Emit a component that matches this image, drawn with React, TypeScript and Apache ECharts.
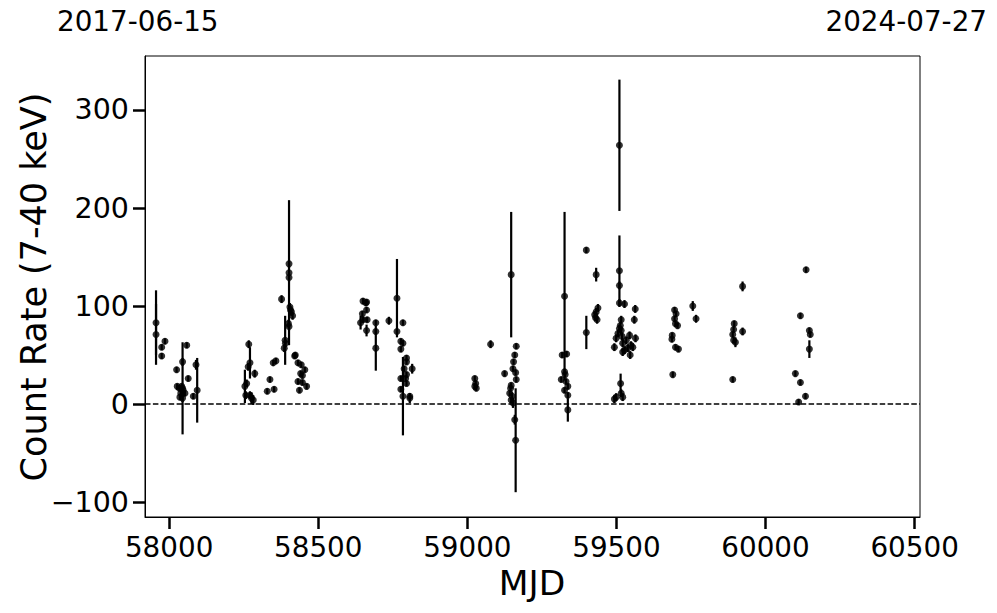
import React, { useEffect, useRef } from "react";
import * as echarts from "echarts";

// MJD of each measurement
const mjd: number[] = [
  57956, 57956, 57975, 57986, 57975,
  58025, 58027, 58034, 58042, 58047, 58039, 58053, 58036, 58045, 58045, 58045, 58059, 58064, 58081, 58090, 58094,
  58254, 58257, 58265, 58267, 58271, 58271, 58276, 58282, 58287, 58260,
  58329, 58338, 58352, 58349, 58358,
  58377, 58386, 58389, 58390, 58402, 58402, 58402, 58405, 58410, 58414, 58400, 58402, 58407,
  58421, 58423, 58432, 58443, 58455, 58441, 58447, 58432, 58447, 58437, 58461,
  58650, 58662, 58660, 58662, 58648, 58650, 58642, 58664, 58662, 58693, 58693, 58693, 58737,
  58764, 58764, 58777, 58784, 58777, 58784, 58796, 58796, 58788, 58815, 58796, 58777, 58793, 58796, 58777, 58784, 58807, 58807,
  59025, 59028, 59025, 59030, 59078,
  59147, 59164, 59159, 59155, 59125, 59153, 59162, 59164, 59147, 59142, 59147, 59153, 59159, 59162, 59145, 59150,
  59326, 59318, 59333, 59326, 59328, 59315, 59331, 59337, 59326, 59337, 59337,
  59399, 59399, 59432, 59432, 59438, 59427, 59435, 59430,
  59510, 59510, 59510, 59510, 59527, 59563, 59560, 59516, 59510, 59516, 59505, 59499, 59493, 59521, 59544, 59564,
  59549, 59555, 59538, 59546, 59527, 59521, 59514, 59516, 59521, 59499, 59493, 59513, 59519, 59533,
  59695, 59700, 59695, 59698, 59705, 59687, 59686, 59698, 59708, 59689, 59756, 59767,
  59895, 59893, 59890, 59893, 59899, 59890, 59923, 59923,
  60100, 60117, 60134, 60111, 60117, 60136, 60147, 60150, 60147,
];

// Count rate (7-40 keV)
const rate: number[] = [
  83, 71, 58, 64, 49,
  35, 18, 16, 18, 14, 11, 11, 7, 16, 43, 6, 60, 26, 8, 40, 14,
  18, 9, 38, 61, 42, 9, 6, 4, 31, 21,
  13, 25, 15, 42, 44,
  107, 57, 65, 62, 143, 134, 129, 99, 94, 90, 82, 79, 96,
  49, 50, 42, 40, 35, 31, 29, 23, 22, 14, 18,
  105, 104, 103, 96, 92, 86, 83, 86, 75, 83, 74, 57, 85,
  108, 74, 64, 62, 56, 83, 47, 43, 36, 36, 30, 26, 26, 21, 15, 8, 8, 6,
  26, 21, 18, 16, 61,
  132, 59, 50, 43, 31, 36, 32, 25, 19, 11, 4, 1, -16, -37, 16, 8,
  110, 50, 51, 33, 30, 25, 23, 18, 14, 9, -6,
  157, 73, 132, 94, 98, 91, 86, 88,
  264, 136, 121, 103, 102, 97, 86, 86, 77, 75, 72, 67, 58, 62, 70, 67,
  60, 58, 57, 50, 55, 53, 21, 11, 7, 7, 5, 80, 69, 65,
  96, 92, 87, 82, 80, 70, 66, 58, 56, 30, 100, 87,
  82, 76, 71, 65, 63, 25, 120, 74,
  31, 22, 8, 2, 90, 137, 75, 71, 56,
];

// 1-sigma error of the count rate
const rateErr: number[] = [
  33, 31, 3, 3, 3,
  3, 3, 3, 3, 3, 3, 3, 3, 47, 4, 4, 3, 3, 3, 5, 33,
  17, 4, 4, 4, 16, 4, 6, 5, 4, 4,
  3, 3, 3, 3, 3,
  4, 4, 25, 4, 4, 74, 4, 4, 4, 4, 4, 4, 4,
  3, 3, 3, 3, 3, 3, 3, 3, 3, 3, 3,
  3, 3, 3, 3, 3, 3, 7, 3, 6, 3, 3, 23, 4,
  40, 3, 3, 3, 3, 3, 3, 3, 3, 5, 3, 3, 3, 3, 3, 40, 3, 5,
  3, 3, 3, 3, 4,
  64, 3, 3, 3, 3, 3, 3, 3, 3, 3, 3, 5, 5, 53, 4, 4,
  86, 3, 3, 3, 3, 3, 3, 3, 3, 3, 12,
  3, 17, 7, 4, 4, 4, 4, 3,
  67, 36, 4, 4, 4, 4, 4, 4, 4, 4, 4, 4, 4, 4, 4, 4,
  4, 4, 4, 4, 4, 4, 10, 4, 4, 4, 4, 4, 4, 4,
  3, 3, 3, 3, 3, 3, 3, 3, 3, 3, 5, 4,
  3, 3, 3, 3, 5, 3, 5, 4,
  3, 3, 3, 3, 3, 3, 3, 3, 9,
];

const xTicks: number[] = [58000, 58500, 59000, 59500, 60000, 60500];
const yTicks: number[] = [-100, 0, 100, 200, 300];
const startDate = "2017-06-15";
const endDate = "2024-07-27";
const xName = "MJD";
const yName = "Count Rate (7-40 keV)";

const FONT = "DejaVu Sans";

export default function App() {
  const ref = useRef<HTMLDivElement>(null);
  useEffect(() => {
    if (!ref.current) return;
    const chart = echarts.init(ref.current, undefined, { renderer: "svg" });
    const points = mjd.map((m, i) => [m, rate[i], rateErr[i]]);
    chart.setOption({
      animation: false,
      backgroundColor: "#fff",
      grid: {
        left: 145,
        right: 77,
        top: 56,
        bottom: 96,
        show: true,
        borderColor: "#000",
        borderWidth: 1,
        backgroundColor: "transparent",
      },
      xAxis: {
        type: "value",
        min: 57919,
        max: 60518,
        splitLine: { show: false },
        axisLine: { show: true, onZero: false, lineStyle: { color: "#000", width: 1 } },
        axisTick: {
          show: true,
          customValues: xTicks,
          length: 12,
          inside: false,
          lineStyle: { color: "#000", width: 2.5 },
        },
        axisLabel: {
          customValues: xTicks,
          formatter: (v: number) => String(v),
          color: "#000",
          fontFamily: FONT,
          fontSize: 27.8,
          margin: 16,
        },
      },
      yAxis: {
        type: "value",
        min: -115.3,
        max: 355.1,
        splitLine: { show: false },
        axisLine: { show: true, onZero: false, lineStyle: { color: "#000", width: 1 } },
        axisTick: {
          show: true,
          customValues: yTicks,
          length: 12,
          inside: false,
          lineStyle: { color: "#000", width: 2.5 },
        },
        axisLabel: {
          customValues: yTicks,
          formatter: (v: number) => String(v).replace("-", "\u2212"),
          color: "#000",
          fontFamily: FONT,
          fontSize: 28.5,
          margin: 16,
        },
      },
      graphic: [
        {
          type: "text",
          left: 57,
          top: 7,
          style: { text: startDate, fontFamily: FONT, fontSize: 27.8, fill: "#000" },
        },
        {
          type: "text",
          right: 10,
          top: 7,
          style: { text: endDate, fontFamily: FONT, fontSize: 27.8, fill: "#000" },
        },
        {
          type: "text",
          x: 532,
          y: 583,
          style: {
            text: xName,
            fontFamily: FONT,
            fontSize: 34.5,
            fill: "#000",
            align: "center",
            verticalAlign: "middle",
          },
        },
        {
          type: "text",
          x: 34,
          y: 287,
          rotation: Math.PI / 2,
          style: {
            text: yName,
            fontFamily: FONT,
            fontSize: 35,
            fill: "#000",
            align: "center",
            verticalAlign: "middle",
          },
        },
      ],
      series: [
        {
          type: "custom",
          name: "err",
          data: points,
          silent: true,
          renderItem: (params: any, api: any) => {
            const x = api.value(0);
            const y = api.value(1);
            const e = api.value(2);
            const p1 = api.coord([x, y - e]);
            const p2 = api.coord([x, y + e]);
            return {
              type: "line",
              shape: { x1: p1[0], y1: p1[1], x2: p2[0], y2: p2[1] },
              style: { stroke: "#000", lineWidth: 2.2 },
            };
          },
          z: 2,
        },
        {
          type: "scatter",
          name: "rate",
          data: points.map((p) => [p[0], p[1]]),
          symbol: "circle",
          symbolSize: 7,
          itemStyle: { color: "#000" },
          z: 3,
          markLine: {
            silent: true,
            symbol: "none",
            label: { show: false },
            lineStyle: { color: "#000", type: [5.5, 2.4], width: 1.5 },
            data: [{ yAxis: 0 }],
          },
        },
      ],
    });
    return () => chart.dispose();
  }, []);
  return (
    <div
      ref={ref}
      style={{ position: "fixed", left: 0, top: 0, width: 997, height: 613 }}
    />
  );
}
